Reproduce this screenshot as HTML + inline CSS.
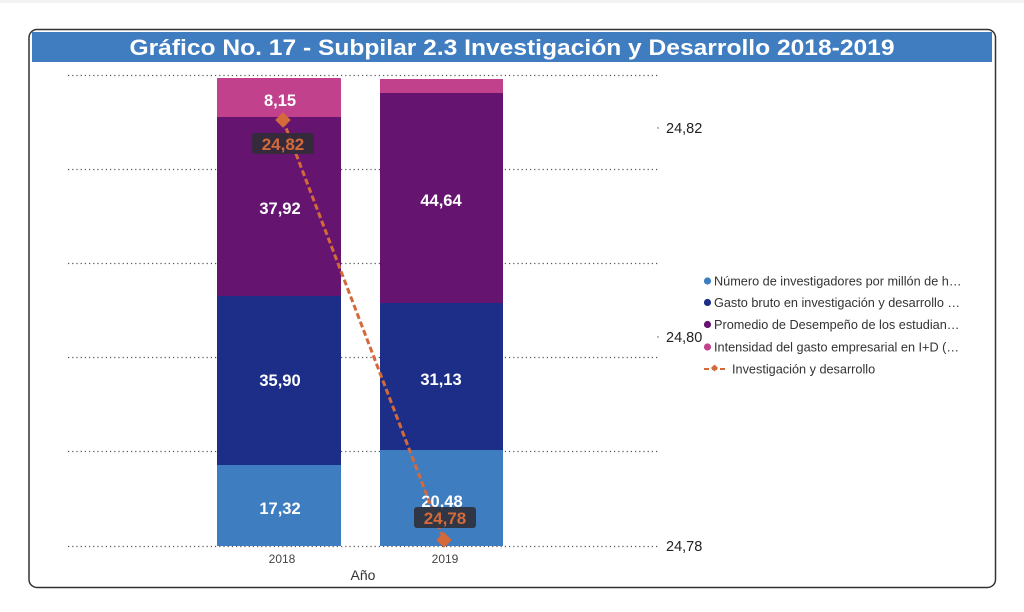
<!DOCTYPE html>
<html><head><meta charset="utf-8">
<style>
html,body{margin:0;padding:0;background:#fff;}
body{width:1024px;height:607px;overflow:hidden;font-family:"Liberation Sans",Arial,sans-serif;}
</style></head>
<body>
<svg width="1024" height="607" viewBox="0 0 1024 607" xmlns="http://www.w3.org/2000/svg" font-family="Liberation Sans, Arial, sans-serif">
  <rect x="0" y="0" width="1024" height="607" fill="#fff"/>
  <rect x="0" y="0" width="1024" height="3" fill="#f2f2f2"/>
  <!-- frame -->
  <rect x="29" y="29.5" width="966.5" height="558" rx="8" ry="8" fill="#fff" stroke="#333" stroke-width="1.5"/>
  <!-- title bar -->
  <rect x="32" y="32" width="960" height="30" fill="#3f7dc0"/>
  <text x="512" y="55" text-anchor="middle" fill="#fff" font-weight="bold" font-size="22" textLength="765" lengthAdjust="spacingAndGlyphs">Gráfico No. 17 - Subpilar 2.3 Investigación y Desarrollo 2018-2019</text>

  <!-- gridlines -->
  <g stroke="#555" stroke-width="1.2" stroke-dasharray="1.2 3">
    <line x1="68" y1="75.5" x2="658" y2="75.5"/>
    <line x1="68" y1="169.5" x2="658" y2="169.5"/>
    <line x1="68" y1="263.5" x2="658" y2="263.5"/>
    <line x1="68" y1="357.5" x2="658" y2="357.5"/>
    <line x1="68" y1="451.5" x2="658" y2="451.5"/>
    <line x1="68" y1="546.5" x2="658" y2="546.5"/>
  </g>

  <!-- bars 2018 -->
  <rect x="217" y="78" width="124" height="39" fill="#c2418d"/>
  <rect x="217" y="117" width="124" height="179" fill="#65146f"/>
  <rect x="217" y="296" width="124" height="169" fill="#1c2e88"/>
  <rect x="217" y="465" width="124" height="81" fill="#3e7dc0"/>
  <!-- bars 2019 -->
  <rect x="380" y="79" width="123" height="14" fill="#c2418d"/>
  <rect x="380" y="93" width="123" height="210" fill="#65146f"/>
  <rect x="380" y="303" width="123" height="147" fill="#1c2e88"/>
  <rect x="380" y="450" width="123" height="96" fill="#3e7dc0"/>

  <!-- bar labels -->
  <g fill="#fff" font-weight="bold" font-size="16.5" text-anchor="middle">
    <text x="280" y="106">8,15</text>
    <text x="280" y="214">37,92</text>
    <text x="280" y="386">35,90</text>
    <text x="280" y="514">17,32</text>
    <text x="441" y="206">44,64</text>
    <text x="441" y="385">31,13</text>
    <text x="442" y="507">20,48</text>
  </g>

  <!-- line series -->
  <line x1="283" y1="120" x2="444" y2="540" stroke="#d4693a" stroke-width="3" stroke-dasharray="6 3"/>
  <rect x="277.5" y="114.5" width="11" height="11" fill="#d4693a" transform="rotate(45 283 120)"/>
  <rect x="438.5" y="534.5" width="11" height="11" fill="#d4693a" transform="rotate(45 444 540)"/>

  <!-- line labels -->
  <rect x="252" y="133" width="62" height="21" rx="3" fill="#2e2e36" fill-opacity="0.88"/>
  <text x="283" y="150" text-anchor="middle" fill="#d4693a" font-weight="bold" font-size="17">24,82</text>
  <rect x="414" y="507" width="62" height="21" rx="3" fill="#2e2e36" fill-opacity="0.88"/>
  <text x="445" y="524" text-anchor="middle" fill="#d4693a" font-weight="bold" font-size="17">24,78</text>

  <!-- right axis -->
  <g fill="#222" font-size="14.5">
    <circle cx="658" cy="128" r="0.7" fill="#555"/>
    <text x="666" y="133">24,82</text>
    <circle cx="658" cy="337" r="0.7" fill="#555"/>
    <text x="666" y="342">24,80</text>
    <text x="666" y="551">24,78</text>
  </g>

  <!-- x axis -->
  <g fill="#444" font-size="12" text-anchor="middle">
    <text x="282" y="563">2018</text>
    <text x="445" y="563">2019</text>
  </g>
  <text x="363" y="580" text-anchor="middle" fill="#333" font-size="14">Año</text>

  <!-- legend -->
  <g font-size="12.7" fill="#333">
    <circle cx="707.5" cy="281" r="3.6" fill="#3e7dc0"/>
    <text x="714" y="285.5">Número de investigadores por millón de h…</text>
    <circle cx="707.5" cy="302.5" r="3.6" fill="#1c2e88"/>
    <text x="714" y="307">Gasto bruto en investigación y desarrollo …</text>
    <circle cx="707.5" cy="324.5" r="3.6" fill="#65146f"/>
    <text x="714" y="329">Promedio de Desempeño de los estudian…</text>
    <circle cx="707.5" cy="347" r="3.6" fill="#c2418d"/>
    <text x="714" y="351.5">Intensidad del gasto empresarial en I+D (…</text>
    <line x1="704" y1="369" x2="727" y2="369" stroke="#d4693a" stroke-width="2" stroke-dasharray="5 3"/>
    <rect x="712" y="365.5" width="5" height="5" fill="#d4693a" transform="rotate(45 714.5 368)"/>
    <text x="732" y="373.5">Investigación y desarrollo</text>
  </g>
</svg>
</body></html>
